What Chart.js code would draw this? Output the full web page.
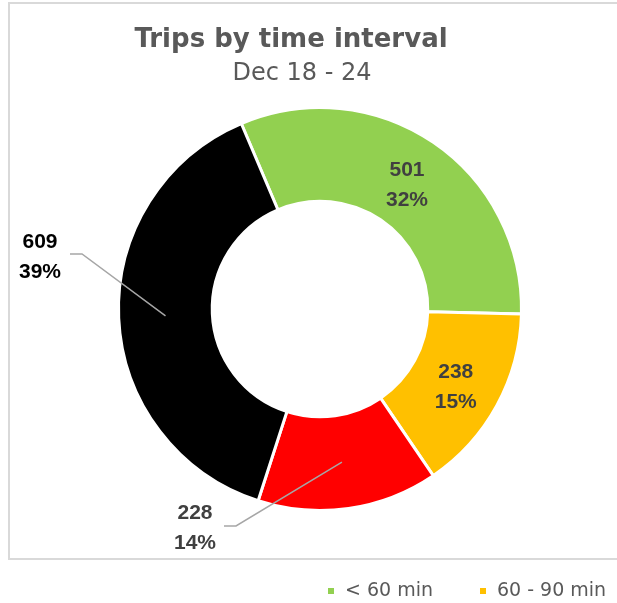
<!DOCTYPE html>
<html>
<head>
<meta charset="utf-8">
<script src="https://cdn.jsdelivr.net/npm/chart.js@4.4.1/dist/chart.umd.min.js"></script>
<style>
  html, body { margin: 0; padding: 0; background: #fff; overflow: hidden; }
  #wrap { width: 617px; height: 603px; }
</style>
</head>
<body>
<div id="wrap"><canvas id="tripsChart" width="617" height="603"></canvas></div>
<script>
const intervalLabels = ["< 60 min", "60 - 90 min", "90 - 120 min", "> 120 min"];
const tripCounts = [501, 238, 228, 609];
const sliceColors = ["#92D050", "#FFC000", "#FF0000", "#000000"];
const chartTitle = "Trips by time interval";
const chartSubtitle = "Dec 18 - 24";

// where each value label goes: inside the ring, or out with a leader line
const labelSpots = [
    { inside: true, color: "#404040" },
    { inside: true, color: "#404040" },
    { inside: false, color: "#404040", x: 195, y: 513, elbow: [236, 526], end: [224, 526] },
    { inside: false, color: "#000000", x: 40, y: 242, elbow: [82, 254], end: [70, 254] }
];

const excelLook = {
    id: 'excelLook',
    beforeDraw(chart) {
        const ctx = chart.ctx;
        ctx.save();
        ctx.strokeStyle = '#D9D9D9';
        ctx.lineWidth = 2;
        ctx.strokeRect(9, 3, 700, 556);
        ctx.restore();
    },
    afterDraw(chart) {
        const ctx = chart.ctx;
        const meta = chart.getDatasetMeta(0);
        const values = chart.data.datasets[0].data;
        const total = values.reduce((a, b) => a + b, 0);
        ctx.save();

        // title + subtitle
        ctx.textAlign = 'center';
        ctx.textBaseline = 'alphabetic';
        ctx.fillStyle = '#595959';
        ctx.font = 'bold 26px "DejaVu Sans"';
        ctx.fillText(chartTitle, 291, 47);
        ctx.font = '24px "DejaVu Sans"';
        ctx.fillText(chartSubtitle, 302, 80);

        // value labels
        ctx.font = 'bold 21px "Liberation Sans"';
        ctx.textBaseline = 'middle';
        meta.data.forEach((arc, i) => {
            const spot = labelSpots[i];
            const mid = (arc.startAngle + arc.endAngle) / 2;
            const r = (arc.innerRadius + arc.outerRadius) / 2;
            const px = arc.x + Math.cos(mid) * r;
            const py = arc.y + Math.sin(mid) * r;
            const pct = Math.round(values[i] / total * 100) + '%';
            let tx = px, ty = py - 11;
            if (!spot.inside) {
                ctx.strokeStyle = '#A6A6A6';
                ctx.lineWidth = 1.5;
                ctx.beginPath();
                ctx.moveTo(px, py);
                ctx.lineTo(spot.elbow[0], spot.elbow[1]);
                ctx.lineTo(spot.end[0], spot.end[1]);
                ctx.stroke();
                tx = spot.x;
                ty = spot.y;
            }
            ctx.fillStyle = spot.color;
            ctx.fillText(String(values[i]), tx, ty);
            ctx.fillText(pct, tx, ty + 30);
        });

        // legend under the box
        ctx.font = '19px "DejaVu Sans"';
        ctx.textAlign = 'left';
        let lx = 328;
        const ly = 591;
        chart.data.labels.forEach((lab, i) => {
            ctx.fillStyle = sliceColors[i];
            ctx.fillRect(lx, ly - 3, 6, 6);
            ctx.fillStyle = '#595959';
            ctx.fillText(lab, lx + 17, ly);
            lx += 17 + ctx.measureText(lab).width + 47;
        });
        ctx.restore();
    }
};

const ctx = document.getElementById('tripsChart').getContext('2d');
const chart = new Chart(ctx, {
    type: 'doughnut',
    data: {
        labels: intervalLabels,
        datasets: [{
            data: tripCounts,
            backgroundColor: sliceColors,
            borderColor: '#FFFFFF',
            borderWidth: 3
        }]
    },
    options: {
        responsive: false,
        animation: false,
        events: [],
        rotation: -23,
        cutout: '53.5%',
        layout: { padding: { left: 117, right: 94, top: 106, bottom: 91 } },
        plugins: {
            legend: { display: false },
            title: { display: false },
            tooltip: { enabled: false }
        }
    },
    plugins: [excelLook]
});
</script>
</body>
</html>
